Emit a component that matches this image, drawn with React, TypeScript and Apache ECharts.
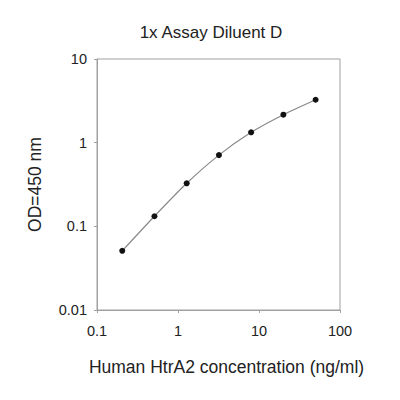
import React, { useEffect, useRef } from "react";
import * as echarts from "echarts";

const concentrations = [0.205, 0.512, 1.28, 3.2, 8, 20, 50];
const odValues = [0.051, 0.132, 0.327, 0.71, 1.33, 2.16, 3.26];
const titleText = "1x Assay Diluent D";
const xAxisName = "Human HtrA2 concentration (ng/ml)";
const yAxisName = "OD=450 nm";

const fmt = (v: number) => String(parseFloat(v.toPrecision(6)));

export default function App() {
  const ref = useRef<HTMLDivElement>(null);
  useEffect(() => {
    if (!ref.current) return;
    const chart = echarts.init(ref.current, null, { renderer: "svg" });
    const font = "Liberation Sans, Arial, sans-serif";
    chart.setOption({
      animation: false,
      backgroundColor: "#ffffff",
      textStyle: { fontFamily: font },
      title: {
        text: titleText,
        left: 206,
        top: 19,
        textAlign: "center",
        textStyle: { fontSize: 17, fontWeight: "normal", color: "#222", fontFamily: font },
      },
      grid: {
        left: 97,
        right: 60,
        top: 59,
        bottom: 90,
        show: true,
        borderColor: "#a0a0a0",
        borderWidth: 1,
        containLabel: false,
      },
      xAxis: {
        type: "log",
        logBase: 10,
        min: 0.1,
        max: 100,
        name: xAxisName,
        nameLocation: "middle",
        nameGap: 48,
        nameTextStyle: { fontSize: 17.5, color: "#222", fontFamily: font, padding: [0, 0, 0, 16] },
        axisLine: { lineStyle: { color: "#a0a0a0" } },
        axisTick: { length: 3, lineStyle: { color: "#a0a0a0" } },
        minorTick: { show: false },
        splitLine: { show: false },
        axisLabel: { fontSize: 14.5, color: "#222", margin: 13, formatter: (v: number) => fmt(v) },
      },
      yAxis: {
        type: "log",
        logBase: 10,
        min: 0.01,
        max: 10,
        name: yAxisName,
        nameLocation: "middle",
        nameGap: 53,
        nameRotate: 90,
        nameTextStyle: { fontSize: 17.5, color: "#222", fontFamily: font },
        axisLine: { lineStyle: { color: "#a0a0a0" } },
        axisTick: { length: 3, lineStyle: { color: "#a0a0a0" } },
        splitLine: { show: false },
        axisLabel: { fontSize: 14.5, color: "#222", margin: 10, formatter: (v: number) => fmt(v) },
      },
      series: [
        {
          type: "line",
          data: concentrations.map((c, i) => [c, odValues[i]]),
          smooth: 0.2,
          symbol: "circle",
          symbolSize: 6,
          itemStyle: { color: "#111" },
          lineStyle: { color: "#888", width: 1.2 },
        },
      ],
    });
    return () => chart.dispose();
  }, []);
  return <div ref={ref} style={{ width: 400, height: 400, position: "absolute", left: 0, top: 0 }} />;
}
